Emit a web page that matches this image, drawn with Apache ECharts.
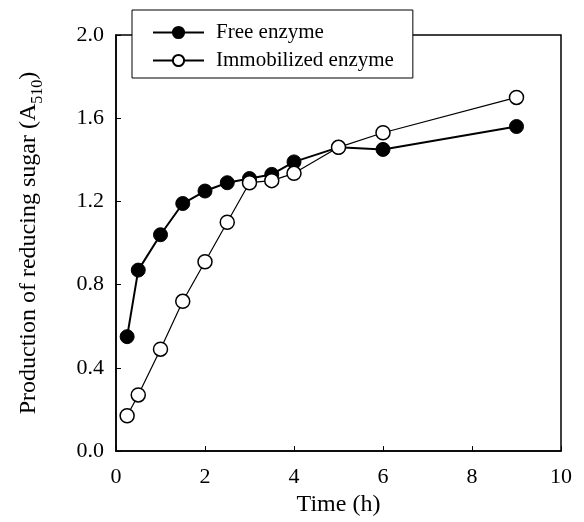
<!DOCTYPE html>
<html>
<head>
<meta charset="utf-8">
<script src="https://cdn.jsdelivr.net/npm/echarts@6/dist/echarts.min.js"></script>
<style>
html,body{margin:0;padding:0;background:#fff;}
#c{width:584px;height:522px;}
</style>
</head>
<body>
<div id="c"></div>
<script>
const timeH = [0.25, 0.5, 1, 1.5, 2, 2.5, 3, 3.5, 4, 5, 6, 9];
const freeEnzyme = [0.55, 0.87, 1.04, 1.19, 1.25, 1.29, 1.31, 1.33, 1.39, 1.46, 1.45, 1.56];
const immobilizedEnzyme = [0.17, 0.27, 0.49, 0.72, 0.91, 1.10, 1.29, 1.30, 1.335, 1.46, 1.53, 1.70];
const seriesNames = ['Free enzyme', 'Immobilized enzyme'];
const xTitle = 'Time (h)';
const yTitle = 'Production of reducing sugar (A';
const ySub = '510';

const FONT = "'Liberation Serif','Times New Roman',serif";
const chart = echarts.init(document.getElementById('c'));
chart.setOption({
  animation: false,
  backgroundColor: '#fff',
  grid: {left: 116, right: 23, top: 35, bottom: 69, show: true, borderColor: '#000', borderWidth: 1.5},
  legend: {
    orient: 'vertical', left: 132, top: 10,
    padding: [12, 19, 7, 20], itemGap: 7, itemWidth: 51, itemHeight: 14,
    backgroundColor: '#fff', borderColor: '#000', borderWidth: 1,
    textStyle: {fontFamily: FONT, fontSize: 21, color: '#000', padding: [0, 0, 0, 7]},
    data: seriesNames
  },
  xAxis: {
    type: 'value', min: 0, max: 10, interval: 2,
    name: xTitle, nameLocation: 'middle', nameGap: 37,
    nameTextStyle: {fontFamily: FONT, fontSize: 24, color: '#000'},
    axisLine: {show: true, lineStyle: {color: '#000', width: 1.5}},
    axisTick: {show: true, inside: true, length: 5, lineStyle: {color: '#000'}},
    axisLabel: {fontFamily: FONT, fontSize: 22, color: '#000', margin: 15},
    splitLine: {show: false}
  },
  yAxis: {
    type: 'value', min: 0, max: 2, interval: 0.4,
    name: '{m|' + yTitle + '}{s|' + ySub + '}{m|)}', nameLocation: 'middle', nameGap: 72, nameRotate: 90,
    nameTextStyle: {
      fontFamily: FONT, fontSize: 24, color: '#000',
      rich: {
        m: {fontFamily: FONT, fontSize: 24, color: '#000', lineHeight: 30, verticalAlign: 'middle'},
        s: {fontFamily: FONT, fontSize: 16, color: '#000', lineHeight: 30, verticalAlign: 'bottom', padding: [0, 0, -2, 0]}
      }
    },
    axisLine: {show: true, lineStyle: {color: '#000', width: 1.5}},
    axisTick: {show: true, inside: true, length: 5, lineStyle: {color: '#000'}},
    axisLabel: {fontFamily: FONT, fontSize: 22, color: '#000', margin: 12, formatter: v => v.toFixed(1)},
    splitLine: {show: false}
  },
  series: [
    {
      name: seriesNames[0], type: 'line',
      data: timeH.map((t, i) => [t, freeEnzyme[i]]),
      symbol: 'circle', symbolSize: 14,
      lineStyle: {color: '#000', width: 2},
      itemStyle: {color: '#000', borderColor: '#000', borderWidth: 1}
    },
    {
      name: seriesNames[1], type: 'line',
      data: timeH.map((t, i) => [t, immobilizedEnzyme[i]]),
      symbol: 'circle', symbolSize: 14,
      lineStyle: {color: '#000', width: 1.2},
      itemStyle: {color: '#fff', borderColor: '#000', borderWidth: 1.5}
    }
  ]
});
</script>
</body>
</html>
